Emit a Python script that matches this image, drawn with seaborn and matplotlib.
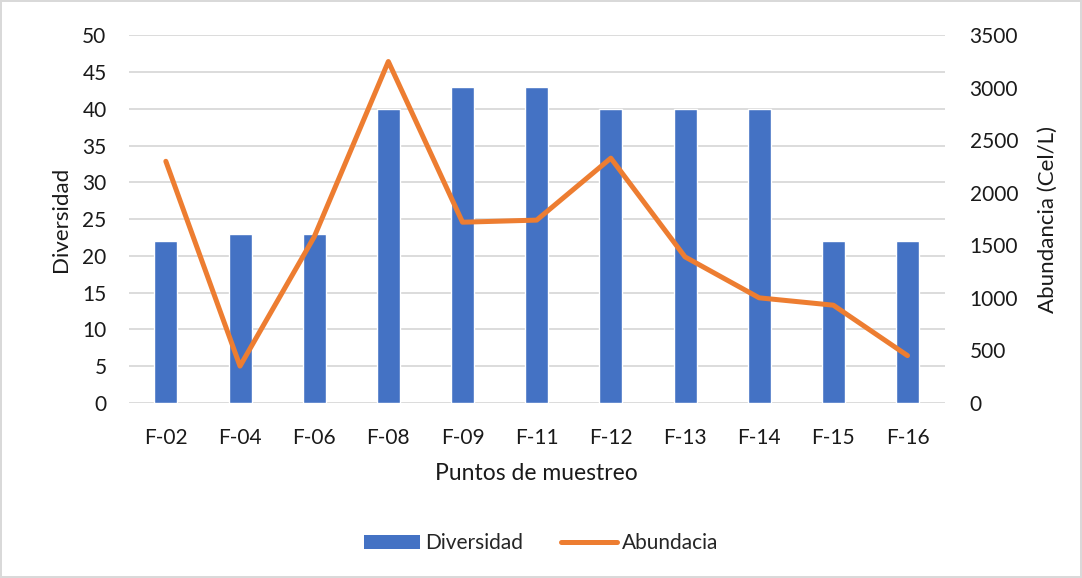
import matplotlib
matplotlib.use("Agg")
import matplotlib.pyplot as plt
import seaborn as sns
import pandas as pd
from matplotlib.patches import Patch
from matplotlib.lines import Line2D

# Sampling points and measured values
puntos = ["F-02", "F-04", "F-06", "F-08", "F-09", "F-11", "F-12", "F-13", "F-14", "F-15", "F-16"]
diversidad = [22, 23, 23, 40, 43, 43, 40, 40, 40, 22, 22]
abundancia = [2300, 350, 1580, 3250, 1720, 1740, 2330, 1390, 1000, 930, 450]

df = pd.DataFrame({"Punto": puntos, "Diversidad": diversidad, "Abundancia": abundancia})

sns.set_theme(style="white")
plt.rcParams["font.family"] = ["Lato", "DejaVu Sans"]

BLUE = "#4472C4"
ORANGE = "#ED7D31"
GRID = "#D9D9D9"
TXT = "#1a1a1a"

fig = plt.figure(figsize=(10.82, 5.78), dpi=100)
ax = fig.add_axes([0.119, 0.303, 0.754, 0.636])

sns.barplot(data=df, x="Punto", y="Diversidad", color=BLUE, width=0.31,
            saturation=1, ax=ax, zorder=2)
ax.set_ylim(0, 50)
ax.set_yticks(range(0, 51, 5))
ax.yaxis.grid(True, color=GRID, linewidth=1.3, zorder=0)
ax.set_axisbelow(True)
for s in ax.spines.values():
    s.set_visible(False)
ax.tick_params(axis="both", length=0, labelsize=15, colors=TXT)
ax.tick_params(axis="y", pad=16)
ax.tick_params(axis="x", pad=18)
ax.set_xlabel("Puntos de muestreo", fontsize=16.5, color=TXT, labelpad=11)
ax.set_ylabel("Diversidad", fontsize=16, color=TXT, labelpad=8)

ax2 = ax.twinx()
sns.lineplot(data=df, x="Punto", y="Abundancia", color=ORANGE, linewidth=3.6,
             ax=ax2, sort=False, solid_capstyle="round", solid_joinstyle="round")
ax2.set_ylim(0, 3500)
ax2.set_yticks(range(0, 3501, 500))
for s in ax2.spines.values():
    s.set_visible(False)
ax2.tick_params(axis="y", length=0, labelsize=15, colors=TXT, pad=18)
ax2.set_ylabel("Abundancia (Cel/L)", fontsize=16, color=TXT, labelpad=14)
ax2.grid(False)
ax.set_xlim(-0.5, len(puntos) - 0.5)

handles = [Patch(facecolor=BLUE, edgecolor="none"),
           Line2D([0], [0], color=ORANGE, linewidth=3.6, solid_capstyle="round")]
fig.legend(handles, ["Diversidad", "Abundacia"], loc="center", bbox_to_anchor=(0.5, 0.06),
           ncol=2, frameon=False, fontsize=15, handlelength=2.7, handletextpad=0.25,
           columnspacing=1.8)

fig.patch.set_edgecolor(GRID)
fig.patch.set_linewidth(1.5)
fig.savefig("out.png", dpi=100, edgecolor=fig.get_edgecolor())
